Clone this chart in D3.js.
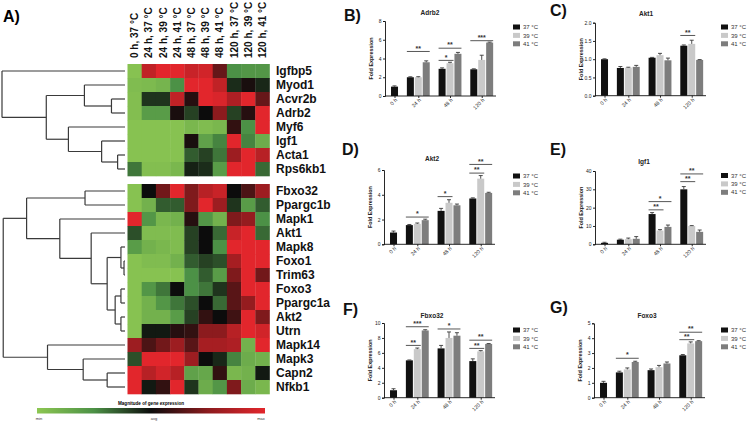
<!DOCTYPE html>
<html><head><meta charset="utf-8">
<script src="https://cdn.jsdelivr.net/npm/d3@7"></script>
<style>body{margin:0;background:#fff}svg{display:block;font-family:"Liberation Sans",Arial,sans-serif}</style>
</head><body><svg id="c" width="750" height="422"></svg>
<script>
// ---------------- DATA ----------------
const conditions = ["0 h, 37 °C","24 h, 37 °C","24 h, 39 °C","24 h, 41 °C","48 h, 37 °C","48 h, 39 °C","48 h, 41 °C","120 h, 37 °C","120 h, 39 °C","120 h, 41 °C"];
const genesGroup1 = ["Igfbp5","Myod1","Acvr2b","Adrb2","Myf6","Igf1","Acta1","Rps6kb1"];
const genesGroup2 = ["Fbxo32","Ppargc1b","Mapk1","Akt1","Mapk8","Foxo1","Trim63","Foxo3","Ppargc1a","Akt2","Utrn","Mapk14","Mapk3","Capn2","Nfkb1"];
// relative expression (-1 = min, 0 = avg, 1 = max)
const heatGroup1 = [
  [-0.95, 0.8, 1, 1, 0.85, 0.9, 0.35, -0.5, -0.55, -0.55],
  [-0.9, -0.88, -0.82, -0.5, 1, 1, 0.8, -0.12, 0.05, -0.1],
  [-0.92, -0.15, -0.15, 0.8, 0.1, 1, 0.95, 0.7, 1, 0.35],
  [-0.92, -0.6, -0.6, 0.05, -0.2, 0, 0.5, -0.2, 0.1, 1],
  [-0.95, -0.95, -0.95, -0.95, -0.85, -0.9, -0.85, 0.15, -0.5, 1],
  [-0.95, -0.95, -0.95, -0.95, 0.05, -0.65, -0.45, 1, -0.45, -0.75],
  [-0.95, -0.95, -0.95, -0.95, -0.3, -0.2, -0.4, 0.6, 1, 0.75],
  [-0.4, -0.92, -0.92, -0.85, -0.08, -0.12, -0.6, 1, 1, -0.35]
];
const heatGroup2 = [
  [-0.95, 0, 0.4, 1, 0.45, 0.75, 0.85, 0, 0.25, 0.6],
  [-0.95, -0.8, -0.3, -0.3, 0.45, 1, 0.6, -0.15, -0.6, -0.3],
  [1, -0.55, -0.85, -0.8, 0.1, -0.55, -0.8, 0.45, 0.55, -0.5],
  [-0.25, -0.9, -0.9, -0.9, -0.2, 0, -0.35, 0.85, 1, -0.35],
  [-0.6, -0.8, -0.85, -0.9, -0.2, 0, -0.5, 1, 1, 1],
  [-0.95, -0.9, -0.9, -0.8, -0.3, -0.2, -0.25, 0.65, 1, 1],
  [-0.95, -0.95, -0.95, -0.95, -0.5, -0.3, -0.6, 0.45, 1, 0.4],
  [-0.95, -0.55, -0.4, 0, -0.5, -0.4, -0.15, 0.3, 1, 1],
  [-0.95, -0.8, -0.55, -0.4, -0.25, 0, -0.35, 0.3, 0.55, 1],
  [-0.95, -0.8, -0.8, -0.6, -0.2, 0.15, 0, 0.2, 1, 0.45],
  [-0.95, -0.05, -0.05, 0.1, 0.15, 0.5, 0.5, 0.75, 1, 0.9],
  [0.6, 0.25, 0.4, 0.6, 0.3, 0.65, 0.65, 0.7, -0.8, 1],
  [-0.25, 1, 1, 1, 0.6, 0, -0.1, -0.45, -0.75, -0.8],
  [1, 0.75, 0.9, 0.75, -0.65, -0.7, 0.15, -0.85, -0.8, -0.05],
  [1, -0.05, 0.15, 1, -0.15, -0.75, -0.55, 0.45, -0.75, -0.85]
];
// dendrograms: h = merge height (0..100)
const dendro1 = {h:100, c:["Igfbp5", {h:64, c:[{h:33, c:["Myod1", {h:11, c:["Acvr2b","Adrb2"]}]}, {h:46, c:["Myf6", {h:19, c:["Igf1", {h:6, c:["Acta1","Rps6kb1"]}]}]}]}]};
const dendro2 = {h:99, c:[{h:80, c:[{h:32.5, c:["Fbxo32","Ppargc1b"]}, {h:53, c:["Mapk1", {h:27.5, c:["Akt1", {h:14.5, c:[{h:3.3, c:["Mapk8", {h:0.8, c:["Foxo1","Trim63"]}]}, {h:8, c:[{h:3.3, c:["Foxo3","Ppargc1a"]}, {h:3.3, c:["Akt2","Utrn"]}]}]}]}]}]}, {h:63, c:["Mapk14", {h:34, c:["Mapk3", {h:14.5, c:["Capn2","Nfkb1"]}]}]}]};
const legendLabels = ["min","avg","max"];

const timepoints = ["0 h","24 h","48 h","120 h"];
const temps = ["37 °C","39 °C","41 °C"];

const adrb2Mean = [[1.0],[2.0,2.0,3.6],[2.9,3.5,4.5],[2.85,3.85,5.7]];
const adrb2Err  = [[0.08],[0.05,0.06,0.15],[0.1,0.1,0.15],[0.05,0.5,0.05]];
const adrb2Sig  = [[1,0,2,"**",4.75],[2,0,1,"*",3.8],[2,0,2,"**",5.1],[3,0,2,"***",5.9]];
const adrb2Ticks = [0,2,4,6,8];

const akt1Mean = [[1.0],[0.76,0.77,0.79],[1.04,1.11,0.97],[1.37,1.42,0.98]];
const akt1Err  = [[0.01],[0.04,0.01,0.04],[0.01,0.05,0.06],[0.02,0.1,0.01]];
const akt1Sig  = [[3,0,1,"**",1.65]];
const akt1Ticks = [0,0.5,1,1.5,2];

const akt2Mean = [[0.95],[1.55,1.65,1.95],[2.7,3.35,3.15],[3.7,5.3,4.15]];
const akt2Err  = [[0.12],[0.05,0.07,0.08],[0.2,0.25,0.1],[0.05,0.25,0.05]];
const akt2Sig  = [[1,0,2,"*",2.2],[2,0,1,"*",3.85],[3,0,1,"**",5.75],[3,0,2,"**",6.45]];
const akt2Ticks = [0,2,4,6];

const igf1Mean = [[0.8],[2.5,2.8,3.0],[16.5,7.5,9.5],[30,10,6.8]];
const igf1Err  = [[0.3],[0.3,0.6,1.2],[0.8,0.5,1.0],[1.5,0.2,1.0]];
const igf1Sig  = [[2,0,1,"**",18.8],[2,0,2,"*",23.3],[3,0,1,"**",34.2],[3,0,2,"**",38.4]];
const igf1Ticks = [0,10,20,30,40];

const fbxo32Mean = [[1.0],[5.0,6.5,9.0],[6.6,8.0,8.3],[4.9,6.2,7.2]];
const fbxo32Err  = [[0.2],[0.05,0.15,0.1],[0.4,0.8,0.4],[0.3,0.1,0.05]];
const fbxo32Sig  = [[1,0,1,"**",7.0],[1,0,2,"***",9.5],[2,0,2,"*",9.2],[3,0,1,"**",6.6],[3,0,2,"**",7.7]];
const fbxo32Ticks = [0,2,4,6,8,10];

const foxo3Mean = [[1.0],[1.7,1.9,2.4],[1.85,2.05,2.3],[2.85,3.65,3.8]];
const foxo3Err  = [[0.1],[0.08,0.1,0.05],[0.08,0.12,0.1],[0.05,0.1,0.03]];
const foxo3Sig  = [[1,0,2,"*",2.65],[3,0,1,"**",3.9],[3,0,2,"**",4.4]];
const foxo3Ticks = [0,1,2,3,4,5];

// ---------------- DRAW ----------------
const svg = d3.select("#c");
svg.append("rect").attr("width",750).attr("height",422).attr("fill","#fff");

const heatColor = d3.scaleLinear().domain([-1,-0.5,0,0.5,1])
  .range(["#8dc752","#4c9146","#0c0c0c","#8c1b1e","#e2262c"]).clamp(true);

svg.append("text").attr("x",3).attr("y",22).attr("font-size",16).attr("font-weight","bold").text("A)");

const hx = d3.scaleBand().domain(d3.range(conditions.length)).range([127.5,269.5]);
const groups = [
  {genes:genesGroup1, heat:heatGroup1, tree:dendro1, y0:64, y1:176},
  {genes:genesGroup2, heat:heatGroup2, tree:dendro2, y0:184, y1:394}
];
const dx = d3.scaleLinear().domain([0,100]).range([125,2]);

groups.forEach(gr => {
  const hy = d3.scaleBand().domain(gr.genes).range([gr.y0, gr.y1]);
  const g = svg.append("g");
  gr.heat.forEach((row, i) => {
    g.selectAll(null).data(row).enter().append("rect")
      .attr("x",(d,j)=>hx(j)).attr("y",hy(gr.genes[i]))
      .attr("width",hx.bandwidth()+0.3).attr("height",hy.bandwidth()+0.3)
      .attr("fill",d=>heatColor(d));
  });
  g.selectAll("text.gene").data(gr.genes).enter().append("text")
    .attr("x",276).attr("y",d=>hy(d)+hy.bandwidth()/2+4.2)
    .attr("font-size",12).attr("font-weight","bold").attr("fill","#111").text(d=>d);
  // dendrogram
  const dg = svg.append("g").attr("stroke","#3a3a3a").attr("stroke-width",1.2).attr("fill","none");
  function walk(node){
    if (typeof node === "string") return {x:dx(0), y:hy(node)+hy.bandwidth()/2};
    const kids = node.c.map(walk);
    const nx = dx(node.h);
    kids.forEach(k => dg.append("line").attr("x1",nx).attr("x2",k.x).attr("y1",k.y).attr("y2",k.y));
    const ys = kids.map(k=>k.y);
    dg.append("line").attr("x1",nx).attr("x2",nx).attr("y1",d3.min(ys)).attr("y2",d3.max(ys));
    return {x:nx, y:(d3.min(ys)+d3.max(ys))/2};
  }
  walk(gr.tree);
});

// column headers
svg.selectAll("text.cond").data(conditions).enter().append("text")
  .attr("transform",(d,i)=>`translate(${hx(i)+hx.bandwidth()/2+3.6},58) rotate(-90)`)
  .attr("font-size",10).attr("font-weight","bold").attr("fill","#111").text(d=>d);

// heatmap legend
const defs = svg.append("defs");
const grad = defs.append("linearGradient").attr("id","hg");
d3.range(0,1.0001,0.05).forEach(t => grad.append("stop").attr("offset",t).attr("stop-color",heatColor(-1+2*t)));
svg.append("rect").attr("x",37).attr("y",408).attr("width",228).attr("height",5.5).attr("fill","url(#hg)");
svg.append("text").attr("x",151).attr("y",405).attr("text-anchor","middle").attr("font-size",4.6).attr("font-weight","bold").text("Magnitude of gene expression");
svg.selectAll("text.leg").data(legendLabels).enter().append("text")
  .attr("x",(d,i)=>[39,154,261][i]).attr("y",419.5).attr("text-anchor","middle").attr("font-size",4).attr("fill","#333").text(d=>d);

// bar panels
const barColors = ["#111111","#c9c9c9","#7d7d7d"];
const panels = [
  {letter:"B)", title:"Adrb2", mean:adrb2Mean, err:adrb2Err, sig:adrb2Sig, ticks:adrb2Ticks, fmt:d3.format("d"),
   ax:385, top:21, bottom:96, lx:344, ly:21, tx:430, ty:15, gx:513, gy:27},
  {letter:"C)", title:"Akt1", mean:akt1Mean, err:akt1Err, sig:akt1Sig, ticks:akt1Ticks, fmt:d3.format(".1f"),
   ax:595, top:22.7, bottom:95.7, lx:550, ly:16, tx:646, ty:15.5, gx:721, gy:27},
  {letter:"D)", title:"Akt2", mean:akt2Mean, err:akt2Err, sig:akt2Sig, ticks:akt2Ticks, fmt:d3.format("d"),
   ax:384, top:170, bottom:244.3, lx:342, ly:155, tx:432, ty:161, gx:513, gy:176},
  {letter:"E)", title:"Igf1", mean:igf1Mean, err:igf1Err, sig:igf1Sig, ticks:igf1Ticks, fmt:d3.format("d"),
   ax:595, top:171, bottom:244.3, lx:550, ly:155, tx:644, ty:164, gx:721, gy:175.5},
  {letter:"F)", title:"Fbxo32", mean:fbxo32Mean, err:fbxo32Err, sig:fbxo32Sig, ticks:fbxo32Ticks, fmt:d3.format("d"),
   ax:384, top:323, bottom:397.7, lx:343, ly:315, tx:432, ty:318, gx:513, gy:330},
  {letter:"G)", title:"Foxo3", mean:foxo3Mean, err:foxo3Err, sig:foxo3Sig, ticks:foxo3Ticks, fmt:d3.format("d"),
   ax:594, top:323.3, bottom:397.7, lx:550, ly:313, tx:647, ty:318, gx:721, gy:330}
];
const slot = (t,k) => t === 0 ? 0 : 4*(t-1) + 2 + k;
const groupCenter = [0,3,7,11];

panels.forEach(p => {
  const g = svg.append("g");
  const yMax = d3.max(p.ticks);
  const y = d3.scaleLinear().domain([0,yMax]).range([p.bottom,p.top]);
  const x = d3.scaleLinear().domain([-1.2,12.8]).range([p.ax,p.ax+111]);
  const bw = 7;
  const flat = [];
  p.mean.forEach((grp,t)=>grp.forEach((v,k)=>flat.push({t,k,v,e:p.err[t][k]})));
  g.selectAll("rect.bar").data(flat).enter().append("rect")
    .attr("x",d=>x(slot(d.t,d.k))-bw/2).attr("y",d=>y(d.v))
    .attr("width",bw).attr("height",d=>y(0)-y(d.v)).attr("fill",d=>barColors[d.k]);
  const eg = g.append("g").attr("stroke","#3a3a3a").attr("stroke-width",0.9);
  flat.forEach(d => {
    const cx = x(slot(d.t,d.k));
    eg.append("line").attr("x1",cx).attr("x2",cx).attr("y1",y(d.v)).attr("y2",y(d.v+d.e));
    eg.append("line").attr("x1",cx-2).attr("x2",cx+2).attr("y1",y(d.v+d.e)).attr("y2",y(d.v+d.e));
  });
  // y axis
  const ya = g.append("g").attr("transform",`translate(${p.ax},0)`)
    .call(d3.axisLeft(y).tickValues(p.ticks).tickSize(2).tickPadding(1.5).tickFormat(p.fmt));
  ya.selectAll("text").attr("font-size",5).attr("fill","#222").attr("font-family","Liberation Sans, Arial");
  ya.selectAll("path,line").attr("stroke","#111").attr("stroke-width",0.9);
  // x axis
  const xa = g.append("g").attr("transform",`translate(0,${p.bottom})`)
    .call(d3.axisBottom(x).tickValues(groupCenter).tickSize(2).tickFormat((d,i)=>timepoints[i]));
  xa.select(".domain").attr("d",`M${p.ax},0H${p.ax+111}`);
  xa.selectAll("path,line").attr("stroke","#111").attr("stroke-width",0.9);
  xa.selectAll("text").attr("font-size",5.3).attr("fill","#222").attr("font-family","Liberation Sans, Arial")
    .attr("x",0).attr("y",0).attr("dy",0).style("text-anchor","end")
    .attr("transform","translate(2.5,4.5) rotate(-45)");
  // y label
  g.append("text").attr("transform",`translate(${p.ax-12},${(p.top+p.bottom)/2}) rotate(-90)`)
    .attr("text-anchor","middle").attr("font-size",5.4).attr("font-weight","bold").attr("fill","#222").text("Fold Expression");
  // title + letter
  g.append("text").attr("x",p.tx).attr("y",p.ty).attr("text-anchor","middle").attr("font-size",6.5).attr("font-weight","bold").attr("fill","#222").text(p.title);
  g.append("text").attr("x",p.lx).attr("y",p.ly).attr("font-size",16).attr("font-weight","bold").attr("fill","#111").text(p.letter);
  // significance
  p.sig.forEach(s => {
    const x1 = x(slot(s[0],s[1]))-3.5, x2 = x(slot(s[0],s[2]))+3.5, yy = y(s[4]);
    g.append("line").attr("x1",x1).attr("x2",x2).attr("y1",yy).attr("y2",yy).attr("stroke","#444").attr("stroke-width",0.9);
    g.append("text").attr("x",(x1+x2)/2).attr("y",yy-0.8).attr("text-anchor","middle")
      .attr("font-size",7).attr("font-weight","bold").attr("fill","#333").text(s[3]);
  });
  // legend
  const lg = g.append("g");
  lg.selectAll("rect").data(temps).enter().append("rect")
    .attr("x",p.gx).attr("y",(d,i)=>p.gy+i*8.4-2.5).attr("width",7).attr("height",5).attr("fill",(d,i)=>barColors[i]);
  lg.selectAll("text").data(temps).enter().append("text")
    .attr("x",p.gx+10).attr("y",(d,i)=>p.gy+i*8.4+2.1).attr("font-size",6).attr("fill","#333").text(d=>d);
});
</script></body></html>
